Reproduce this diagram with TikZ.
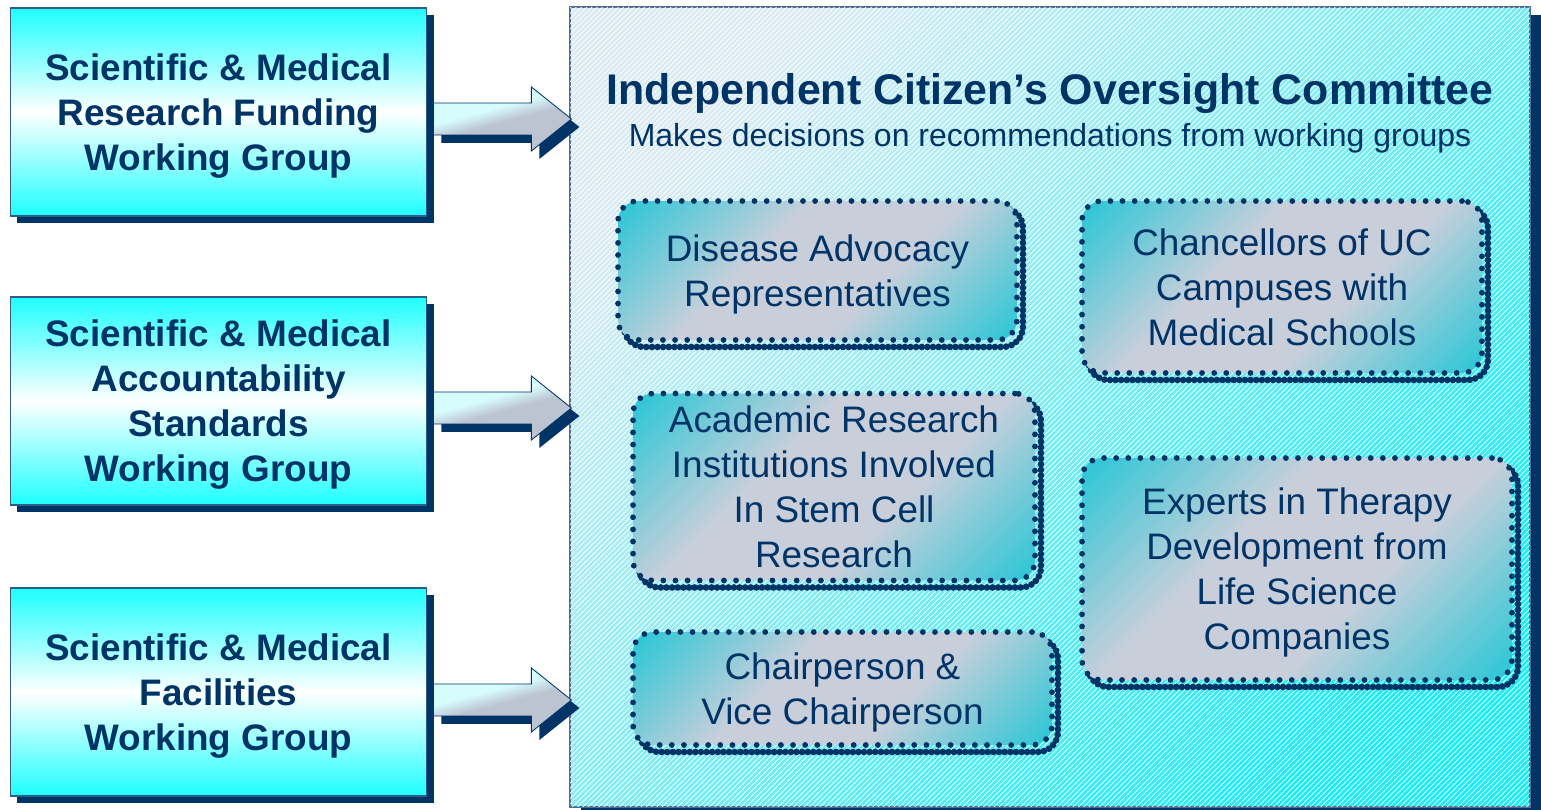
\documentclass[tikz,border=0pt]{standalone}
\usepackage{fontspec}
\setmainfont{Liberation Sans}
\usetikzlibrary{positioning,calc,patterns}
\definecolor{navy}{RGB}{0,51,102}
\definecolor{aqua}{RGB}{30,255,255}
\definecolor{palecyan}{RGB}{218,236,242}
\definecolor{brightcyan}{RGB}{24,240,245}
\definecolor{memberteal}{RGB}{36,198,214}
\definecolor{membergray}{RGB}{200,207,219}
\definecolor{arrowtop}{RGB}{215,252,254}
\definecolor{arrowgray}{RGB}{188,196,210}
\definecolor{arrowteal}{RGB}{80,190,208}
\pgfdeclareverticalshading{membershade}{100bp}{color(0bp)=(memberteal); color(14bp)=(memberteal); color(40bp)=(membergray); color(60bp)=(membergray); color(86bp)=(memberteal); color(100bp)=(memberteal)}
\pgfdeclareverticalshading{feedshade}{100bp}{color(0bp)=(arrowteal); color(25bp)=(arrowgray); color(48bp)=(arrowgray); color(58bp)=(arrowtop); color(100bp)=(arrowtop)}
\tikzset{
    group/.style={
           rectangle,
           draw=navy!80, line width=0.6pt,
           top color=aqua, bottom color=aqua, middle color=white,
           minimum width=8.34cm, minimum height=4.16cm,
           inner sep=0pt, align=center, text=navy, text depth=-1.5pt,
           font=\fontsize{21}{25.6}\selectfont\bfseries,
           preaction={fill=navy, transform canvas={shift={(7,7)}}},
           },
}
\tikzset{
    committee/.style={
           rectangle,
           draw=navy!70, line width=0.8pt,
           top color=palecyan, bottom color=brightcyan, shading angle=45,
           minimum width=19.2cm, minimum height=16cm, inner sep=0pt,
           preaction={fill=navy, transform canvas={shift={(11,8)}}},
           postaction={pattern=north east lines, pattern color=white, fill opacity=0.35},
           },
}
\tikzset{
    member/.style={
           rectangle, rounded corners=0.4cm,
           draw=navy, line width=3.3pt, dash pattern=on 0pt off 6.9pt, line cap=round,
           shading=membershade, shading angle=45,
           inner sep=0pt, align=center, text=navy, text depth=-1.5pt,
           font=\fontsize{21}{25.6}\selectfont,
           preaction={draw=navy, line width=3.8pt, dash pattern=on 0pt off 3.2pt,
                      line cap=round, transform canvas={shift={(6,7)}}},
           },
}
\tikzset{
    feed/.style={
           shading=feedshade, shading angle=15,
           draw=navy, line width=0.5pt,
           preaction={fill=navy, transform canvas={shift={(8,8)}}},
           },
}
% block arrow from a working group to the tip coordinate
\newcommand{\feedarrow}[2]{%
  \path[feed] ($(#1.east |- #2)+(6,-16)$) -- ($(#2)+(-40,-16)$) -- ($(#2)+(-40,-32)$)
    -- (#2) -- ($(#2)+(-40,32)$) -- ($(#2)+(-40,16)$) -- ($(#1.east |- #2)+(6,16)$) -- cycle;}

\begin{document}
\begin{tikzpicture}[x=0.02cm,y=-0.02cm]
\useasboundingbox (0,0) rectangle (1541,810);
% oversight committee
\node[committee](ioc) at (1050,407){};
\node[text=navy,font=\fontsize{24.4}{29}\selectfont\bfseries](head) at (1050,94){Independent Citizen’s Oversight Committee};
\node[text=navy,font=\fontsize{18.2}{22}\selectfont](sub) at (1050,138){Makes decisions on recommendations from working groups};
\node[member,minimum width=7.98cm,minimum height=2.78cm](advocacy) at (817.5,270.5){Disease Advocacy\\Representatives};
\node[member,minimum width=8cm,minimum height=3.44cm](chancellors) at (1282,287){Chancellors of UC\\Campuses with\\Medical Schools};
\node[member,minimum width=8.04cm,minimum height=3.74cm](institutions) at (834,487){Academic Research\\Institutions Involved\\In Stem Cell\\Research};
\node[member,minimum width=8.38cm,minimum height=2.26cm](chair) at (842.5,688.5){Chairperson \&\\Vice Chairperson};
\node[member,minimum width=8.6cm,minimum height=4.44cm](experts) at (1297,569){Experts in Therapy\\Development from\\Life Science\\Companies};
% working groups
\node[group](funding) at (218.5,112){Scientific \& Medical\\Research Funding\\Working Group};
\node[group,below=1.6cm of funding](standards){Scientific \& Medical\\Accountability\\Standards\\Working Group};
\node[group,below=1.64cm of standards](facilities){Scientific \& Medical\\Facilities\\Working Group};
% arrows
\coordinate (tip1) at ($(ioc.west |- funding.east)+(2,7)$);
\coordinate (tip2) at ($(ioc.west |- standards.east)+(2,7)$);
\coordinate (tip3) at ($(ioc.west |- facilities.east)+(2,8)$);
\feedarrow{funding}{tip1}
\feedarrow{standards}{tip2}
\feedarrow{facilities}{tip3}
\end{tikzpicture}
\end{document}
